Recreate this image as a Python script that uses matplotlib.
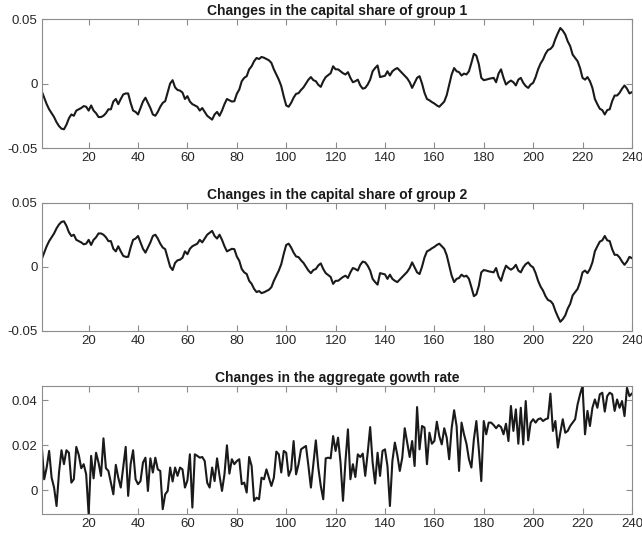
import numpy as np
import matplotlib
matplotlib.use("Agg")
import matplotlib.pyplot as plt

# Quarterly changes for the two groups and the aggregate growth rate
share_group1 = [
    -0.006, -0.011, -0.016, -0.020, -0.023, -0.026, -0.030, -0.033, -0.035, -0.0355,
    -0.032, -0.027, -0.024, -0.025, -0.021, -0.020, -0.019, -0.0175, -0.018, -0.021,
    -0.017, -0.021, -0.023, -0.026, -0.026, -0.025, -0.023, -0.020, -0.020, -0.014,
    -0.012, -0.016, -0.012, -0.0085, -0.0077, -0.0077, -0.015, -0.021, -0.022, -0.024,
    -0.019, -0.014, -0.011, -0.015, -0.019, -0.024, -0.025, -0.022, -0.018, -0.015,
    -0.0137, -0.007, 0.000, 0.0026, -0.003, -0.005, -0.0055, -0.007, -0.012, -0.0098,
    -0.014, -0.016, -0.017, -0.018, -0.021, -0.019, -0.022, -0.025, -0.0265, -0.028,
    -0.024, -0.022, -0.025, -0.021, -0.016, -0.012, -0.013, -0.014, -0.0137, -0.008,
    -0.0046, 0.0018, 0.0044, 0.0057, 0.011, 0.0134, 0.0173, 0.0198, 0.019, 0.0206,
    0.020, 0.019, 0.018, 0.016, 0.011, 0.007, 0.003, -0.002, -0.010, -0.017,
    -0.018, -0.015, -0.011, -0.008, -0.0075, -0.005, -0.003, 0.000, 0.003, 0.005,
    0.0026, 0.0018, -0.001, -0.0026, 0.0018, 0.005, 0.0065, 0.008, 0.0134, 0.011,
    0.011, 0.0095, 0.008, 0.007, 0.0088, 0.0044, 0.001, 0.0018, 0.003, -0.0015,
    -0.004, -0.0034, -0.0008, 0.003, 0.0095, 0.012, 0.014, 0.005, 0.0055, 0.006,
    0.0095, 0.0062, 0.0095, 0.011, 0.012, 0.010, 0.008, 0.006, 0.004, 0.001,
    -0.0034, 0.0005, 0.0044, 0.0057, 0.000, -0.0072, -0.012, -0.013, -0.0144, -0.0155,
    -0.017, -0.018, -0.016, -0.014, -0.009, -0.001, 0.007, 0.012, 0.0095, 0.0088,
    0.0062, 0.0077, 0.007, 0.0095, 0.016, 0.023, 0.0216, 0.015, 0.0044, 0.0026,
    0.003, 0.0036, 0.004, 0.0044, 0.001, 0.0077, 0.011, 0.0044, -0.0008, 0.001,
    0.0023, 0.001, -0.0015, 0.003, 0.0044, 0.0005, -0.002, -0.0034, -0.0008, 0.0005,
    0.005, 0.011, 0.0155, 0.0186, 0.023, 0.026, 0.0268, 0.029, 0.0345, 0.039,
    0.043, 0.041, 0.038, 0.0327, 0.029, 0.0224, 0.0198, 0.0173, 0.012, 0.0044,
    0.003, 0.005, 0.0018, -0.0034, -0.012, -0.016, -0.0196, -0.0206, -0.024, -0.0206,
    -0.020, -0.0137, -0.0093, -0.0093, -0.0072, -0.004, -0.0015, -0.004, -0.0077, -0.0067,
]

share_group2 = [
    0.006, 0.011, 0.016, 0.020, 0.023, 0.026, 0.030, 0.033, 0.035, 0.0355,
    0.032, 0.027, 0.024, 0.025, 0.021, 0.020, 0.019, 0.0175, 0.018, 0.021,
    0.017, 0.021, 0.023, 0.026, 0.026, 0.025, 0.023, 0.020, 0.020, 0.014,
    0.012, 0.016, 0.012, 0.0085, 0.0077, 0.0077, 0.015, 0.021, 0.022, 0.024,
    0.019, 0.014, 0.011, 0.015, 0.019, 0.024, 0.025, 0.022, 0.018, 0.015,
    0.0137, 0.007, 0.000, -0.0026, 0.003, 0.005, 0.0055, 0.007, 0.012, 0.0098,
    0.014, 0.016, 0.017, 0.018, 0.021, 0.019, 0.022, 0.025, 0.0265, 0.028,
    0.024, 0.022, 0.025, 0.021, 0.016, 0.012, 0.013, 0.014, 0.0137, 0.008,
    0.0046, -0.0018, -0.0044, -0.0057, -0.011, -0.0134, -0.0173, -0.0198, -0.019, -0.0206,
    -0.020, -0.019, -0.018, -0.016, -0.011, -0.007, -0.003, 0.002, 0.010, 0.017,
    0.018, 0.015, 0.011, 0.008, 0.0075, 0.005, 0.003, 0.000, -0.003, -0.005,
    -0.0026, -0.0018, 0.001, 0.0026, -0.0018, -0.005, -0.0065, -0.008, -0.0134, -0.011,
    -0.011, -0.0095, -0.008, -0.007, -0.0088, -0.0044, -0.001, -0.0018, -0.003, 0.0015,
    0.004, 0.0034, 0.0008, -0.003, -0.0095, -0.012, -0.014, -0.005, -0.0055, -0.006,
    -0.0095, -0.0062, -0.0095, -0.011, -0.012, -0.010, -0.008, -0.006, -0.004, -0.001,
    0.0034, -0.0005, -0.0044, -0.0057, 0.000, 0.0072, 0.012, 0.013, 0.0144, 0.0155,
    0.017, 0.018, 0.016, 0.014, 0.009, 0.001, -0.007, -0.012, -0.0095, -0.0088,
    -0.0062, -0.0077, -0.007, -0.0095, -0.016, -0.023, -0.0216, -0.015, -0.0044, -0.0026,
    -0.003, -0.0036, -0.004, -0.0044, -0.001, -0.0077, -0.011, -0.0044, 0.0008, -0.001,
    -0.0023, -0.001, 0.0015, -0.003, -0.0044, -0.0005, 0.002, 0.0034, 0.0008, -0.0005,
    -0.005, -0.011, -0.0155, -0.0186, -0.023, -0.026, -0.0268, -0.029, -0.0345, -0.039,
    -0.043, -0.041, -0.038, -0.0327, -0.029, -0.0224, -0.0198, -0.0173, -0.012, -0.0044,
    -0.003, -0.005, -0.0018, 0.0034, 0.012, 0.016, 0.0196, 0.0206, 0.024, 0.0206,
    0.020, 0.0137, 0.0093, 0.0093, 0.0072, 0.004, 0.0015, 0.004, 0.0077, 0.0067,
]

growth_rate = [
    0.0197, 0.0049, 0.0101, 0.0175, 0.0056, 0.0012, -0.0070, 0.0079, 0.0178, 0.0116,
    0.0178, 0.0167, 0.0034, 0.0049, 0.0193, 0.0157, 0.0098, 0.0116, 0.0071, -0.0107,
    0.0153, 0.0053, 0.0167, 0.0123, 0.0064, 0.0231, 0.0098, 0.0086, 0.0034, -0.0018,
    0.0113, 0.0056, 0.0012, 0.0101, 0.0193, -0.0025, 0.0116, 0.0178, 0.0049, 0.0027,
    0.0041, 0.0123, 0.0145, -0.0003, 0.0142, 0.0079, 0.0145, 0.0093, 0.0086, -0.0084,
    -0.0018, -0.0003, 0.0101, 0.0039, 0.0101, 0.0064, 0.0101, 0.0093, 0.0012, 0.0044,
    0.0160, -0.0077, 0.0160, 0.0153, 0.0145, 0.0148, 0.0130, 0.0034, 0.0012, 0.0101,
    0.0041, 0.0142, 0.0064, -0.0003, 0.0071, 0.0200, 0.0074, 0.0138, 0.0116, 0.0130,
    0.0138, 0.0027, 0.0034, -0.0010, 0.0148, 0.0108, -0.0047, -0.0033, -0.0040, 0.0056,
    0.0049, 0.0093, 0.0056, 0.0019, 0.0056, 0.0172, 0.0160, 0.0079, 0.0175, 0.0167,
    0.0064, 0.0093, 0.0219, 0.0071, 0.0116, 0.0182, 0.0190, 0.0197, 0.0108, 0.0012,
    0.0116, 0.0222, 0.0101, 0.0019, -0.0040, 0.0142, 0.0145, 0.0142, 0.0241, 0.0175,
    0.0234, 0.0123, -0.0047, 0.0130, 0.0271, 0.0049, 0.0116, 0.0059, 0.0160, 0.0148,
    0.0163, 0.0064, 0.0167, 0.0281, 0.0123, 0.0030, 0.0167, 0.0064, 0.0175, 0.0182,
    0.0108, -0.0070, 0.0130, 0.0212, 0.0157, 0.0086, 0.0145, 0.0276, 0.0212, 0.0148,
    0.0219, 0.0108, 0.0370, 0.0182, 0.0286, 0.0279, 0.0116, 0.0256, 0.0207, 0.0219,
    0.0305, 0.0241, 0.0204, 0.0276, 0.0234, 0.0138, 0.0276, 0.0356, 0.0286, 0.0086,
    0.0301, 0.0249, 0.0207, 0.0138, 0.0101, 0.0227, 0.0308, 0.0182, 0.0041, 0.0308,
    0.0249, 0.0301, 0.0301, 0.0290, 0.0276, 0.0290, 0.0281, 0.0249, 0.0296, 0.0219,
    0.0375, 0.0264, 0.0360, 0.0207, 0.0367, 0.0204, 0.0397, 0.0222, 0.0301, 0.0316,
    0.0301, 0.0316, 0.0320, 0.0308, 0.0316, 0.0320, 0.0430, 0.0264, 0.0308, 0.0190,
    0.0256, 0.0316, 0.0256, 0.0264, 0.0286, 0.0301, 0.0316, 0.0382, 0.0427, 0.0464,
    0.0249, 0.0353, 0.0286, 0.0367, 0.0404, 0.0367, 0.0427, 0.0434, 0.0350, 0.0419,
    0.0434, 0.0427, 0.0353, 0.0404, 0.0367, 0.0397, 0.0330, 0.0456, 0.0419, 0.0430,
]

titles = [
    "Changes in the capital share of group 1",
    "Changes in the capital share of group 2",
    "Changes in the aggregate gowth rate",
]
x_ticks = [20, 40, 60, 80, 100, 120, 140, 160, 180, 200, 220, 240]
share_ticks = [-0.05, 0, 0.05]
share_tick_labels = ["-0.05", "0", "0.05"]
growth_ticks = [0, 0.02, 0.04]
growth_tick_labels = ["0", "0.02", "0.04"]

plt.rcParams["font.family"] = ["Liberation Sans", "DejaVu Sans"]

fig = plt.figure(figsize=(6.42, 5.39), dpi=100)
boxes = [
    [0.065, 0.7254, 0.9193, 0.2393],
    [0.065, 0.3864, 0.9193, 0.2375],
    [0.065, 0.0458, 0.9193, 0.2381],
]
series = [share_group1, share_group2, growth_rate]

for i, (box, values, title) in enumerate(zip(boxes, series, titles)):
    ax = fig.add_axes(box)
    t = np.arange(1, len(values) + 1)
    ax.plot(t, values, color="#1a1a1a", linewidth=1.5)

    ax.set_xlim(1, 240)
    ax.set_xticks(x_ticks)
    if i < 2:
        ax.set_ylim(-0.05, 0.05)
        ax.set_yticks(share_ticks)
        ax.set_yticklabels(share_tick_labels)
    else:
        # tight limits around the growth data
        ax.set_ylim(min(values), max(values))
        ax.set_yticks(growth_ticks)
        ax.set_yticklabels(growth_tick_labels)

    ax.set_title(title, fontsize=10, fontweight="bold", color="#1a1a1a", pad=3)
    ax.tick_params(direction="in", top=True, right=True, length=4, width=0.8,
                   color="#8c8c8c", labelcolor="#262626", labelsize=9.5, pad=3)
    for spine in ax.spines.values():
        spine.set_color("#8c8c8c")
        spine.set_linewidth(0.8)

fig.savefig("out.png", dpi=100)
